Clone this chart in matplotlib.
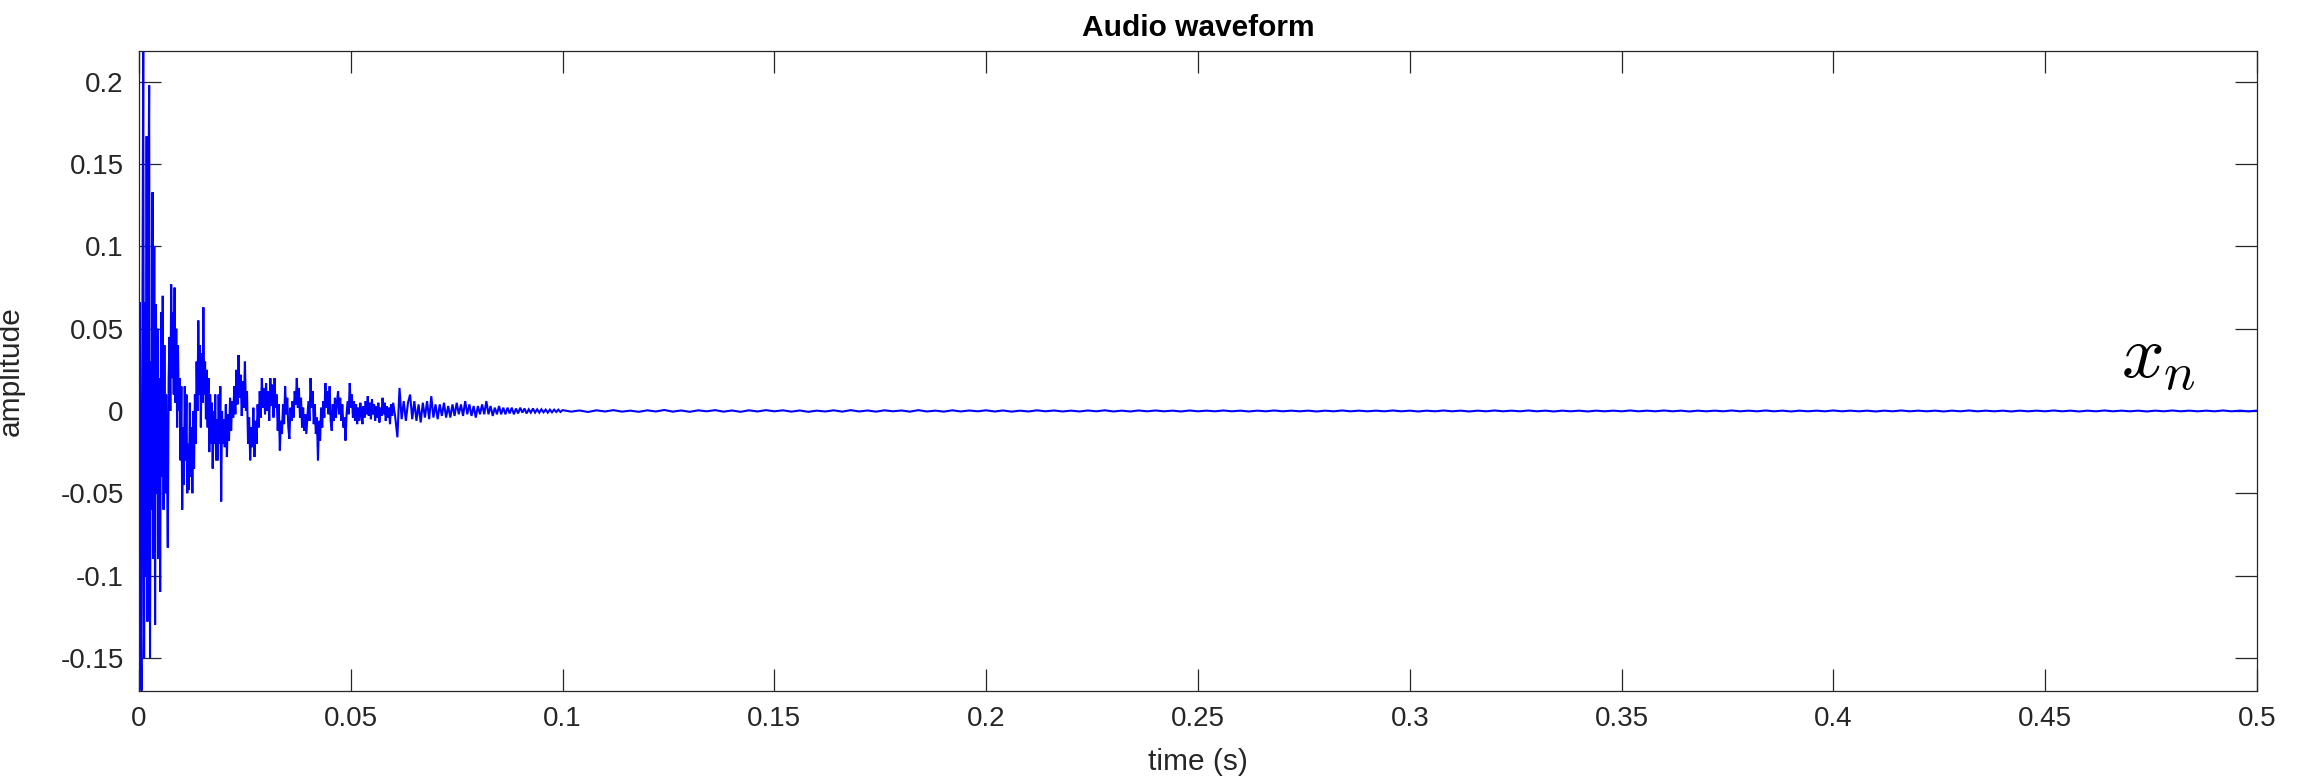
import numpy as np
import matplotlib
matplotlib.use("Agg")
import matplotlib.pyplot as plt

# waveform, in stretches with their own sample step
dt_a, start_a = 0.0002, 0.0
amp_a = [
    0.0, 0.066, -0.12, -0.170, 0.05, 0.219, -0.15, 0.066, -0.10, 0.167,
    -0.128, 0.12, 0.198, -0.15, 0.03, -0.06, 0.133, -0.09, 0.10, -0.13,
    0.065, -0.05, 0.05, -0.09, 0.02, -0.11, 0.06, -0.04, 0.07, -0.06,
    0.04, -0.05, 0.01, -0.03, -0.083, 0.02, 0.045, 0.0, 0.077, 0.02,
    0.06, 0.01, 0.075, 0.005, 0.05, -0.01, 0.04, 0.0, 0.02, -0.03,
    0.015, -0.06, -0.01, -0.045, 0.015, -0.03, 0.01, -0.05, -0.02, -0.048,
    0.005, -0.04, -0.01, -0.05, 0.0, -0.035, 0.01, -0.02, 0.03, 0.0,
    0.055, 0.01, 0.04, -0.01, 0.035, 0.005, 0.063, 0.01, 0.03, -0.005,
    0.025, -0.01, 0.02, -0.025, 0.01, -0.02, 0.005, -0.035, 0.0, -0.02,
    0.01, -0.03, -0.005, -0.03, 0.01, -0.02, 0.015, -0.055, 0.0, -0.02,
]

dt_b, start_b = 0.00025, 0.02
amp_b = [
    -0.005, -0.022, 0.004, -0.028, -0.002, -0.018, 0.008, -0.012, 0.006, -0.004,
    0.015, -0.002, 0.025, 0.004, 0.034, 0.008, 0.022, -0.003, 0.018, 0.002,
    0.03, 0.0, 0.012, -0.02, -0.004, -0.03, -0.01, -0.022, 0.002, -0.028,
    -0.006, -0.02, 0.004, -0.01, 0.012, -0.004, 0.02, 0.002, 0.014, -0.002,
    0.017, 0.0, 0.012, -0.006, 0.02, 0.003, 0.016, -0.004, 0.02, 0.002,
    0.01, -0.012, 0.004, -0.024, -0.006, -0.014, 0.004, -0.008, 0.015, -0.002,
    0.008, -0.01, -0.017, 0.002, -0.006, 0.006, -0.004, 0.012, 0.004, 0.02,
    0.002, 0.014, -0.004, 0.008, -0.01, 0.002, -0.012, -0.002, -0.014, -0.004,
    0.006, -0.006, 0.02, 0.002, 0.012, -0.008, 0.004, -0.014, -0.004, -0.03,
    -0.006, -0.018, 0.002, -0.01, 0.006, -0.004, 0.017, 0.002, 0.012, -0.002,
    0.015, -0.006, -0.012, 0.004, -0.006, 0.008, -0.004, 0.006, 0.012, -0.002,
    0.008, -0.006, 0.004, -0.01, -0.004, -0.018, -0.002, 0.006, -0.002, 0.017,
    0.002, 0.01, -0.004, 0.006, -0.006, 0.004, -0.008, 0.002, -0.006, 0.005,
    -0.002, -0.008, 0.003, -0.004, 0.006, -0.002, 0.009, -0.003, 0.005, -0.005,
    0.007, -0.002, 0.004, -0.006, 0.003, -0.004, 0.005, -0.007, 0.002, -0.003,
    0.008, -0.002, 0.005, -0.006, 0.003, -0.004, 0.002, -0.008, 0.004, -0.003,
]

dt_c, start_c = 0.0005, 0.06
amp_c = [
    0.005, -0.004, -0.016, 0.014, -0.005, 0.006, -0.006, 0.005, 0.01, -0.005,
    0.006, -0.006, 0.004, -0.007, 0.005, -0.004, 0.006, -0.005, 0.009, -0.004,
    0.004, -0.005, 0.004, -0.003, 0.005, -0.004, 0.003, -0.004, 0.004, -0.003,
    0.005, -0.002, 0.004, -0.003, 0.006, -0.002, 0.004, -0.003, 0.003, -0.004,
    0.003, -0.002, 0.004, -0.002, 0.006, -0.002, 0.003, -0.003, 0.002, -0.002,
    0.003, -0.002, 0.002, -0.002, 0.002, -0.0015, 0.002, -0.002, 0.0015, -0.0015,
    0.002, -0.001, 0.0015, -0.0015, 0.001, -0.001, 0.0015, -0.001, 0.001, -0.001,
    0.001, -0.0008, 0.0008, -0.001, 0.0008, -0.0008, 0.0008, -0.0006, 0.0008, -0.0006,
]

dt_d, start_d = 0.002, 0.1
amp_d = [
    0.0005, -0.0004, 0.0003, -0.0006, 0.0004, -0.0003, 0.0005, -0.0004, 0.0002, -0.0005,
    0.0004, -0.0003, 0.0006, -0.0004, 0.0003, -0.0005, 0.0004, -0.0002, 0.0005, -0.0004,
    0.0003, -0.0005, 0.0004, -0.0003, 0.0005, -0.0002, 0.0004, -0.0004, 0.0003, -0.0005,
    0.0002, -0.0003, 0.0004, -0.0004, 0.0005, -0.0003, 0.0003, -0.0004, 0.0004, -0.0002,
    0.0003, -0.0004, 0.0005, -0.0003, 0.0002, -0.0004, 0.0004, -0.0003, 0.0003, -0.0002,
    0.0004, -0.0003, 0.0003, -0.0004, 0.0002, -0.0003, 0.0004, -0.0002, 0.0003, -0.0003,
    0.0002, -0.0003, 0.0003, -0.0002, 0.0004, -0.0003, 0.0002, -0.0003, 0.0003, -0.0002,
    0.0003, -0.0002, 0.0002, -0.0003, 0.0003, -0.0002, 0.0002, -0.0002, 0.0003, -0.0002,
    0.0002, -0.0003, 0.0002, -0.0002, 0.0003, -0.0002, 0.0002, -0.0002, 0.0002, -0.0003,
    0.0002, -0.0002, 0.0003, -0.0002, 0.0002, -0.0002, 0.0002, -0.0002, 0.0003, -0.0002,
    0.0002, -0.0003, 0.0002, -0.0002, 0.0003, -0.0002, 0.0002, -0.0003, 0.0002, -0.0002,
    0.0003, -0.0002, 0.0002, -0.0002, 0.0003, -0.0002, 0.0002, -0.0003, 0.0002, -0.0002,
    0.0002, -0.0003, 0.0002, -0.0002, 0.0002, -0.0002, 0.0003, -0.0002, 0.0002, -0.0002,
    0.0003, -0.0002, 0.0002, -0.0003, 0.0002, -0.0002, 0.0002, -0.0002, 0.0003, -0.0002,
    0.0002, -0.0002, 0.0003, -0.0002, 0.0002, -0.0003, 0.0002, -0.0002, 0.0002, -0.0002,
    0.0003, -0.0002, 0.0002, -0.0002, 0.0002, -0.0003, 0.0002, -0.0002, 0.0003, -0.0002,
    0.0002, -0.0002, 0.0002, -0.0003, 0.0002, -0.0002, 0.0003, -0.0002, 0.0002, -0.0002,
    0.0002, -0.0003, 0.0002, -0.0002, 0.0002, -0.0002, 0.0003, -0.0002, 0.0002, -0.0003,
    0.0002, -0.0002, 0.0003, -0.0002, 0.0002, -0.0002, 0.0002, -0.0003, 0.0002, -0.0002,
    0.0003, -0.0002, 0.0002, -0.0002, 0.0002, -0.0002, 0.0003, -0.0002, 0.0002, -0.0002,
    0.0002,
]

x_ticks = [0, 0.05, 0.1, 0.15, 0.2, 0.25, 0.3, 0.35, 0.4, 0.45, 0.5]
x_labels = ['0', '0.05', '0.1', '0.15', '0.2', '0.25', '0.3', '0.35', '0.4', '0.45', '0.5']
y_ticks = [-0.15, -0.1, -0.05, 0, 0.05, 0.1, 0.15, 0.2]
y_labels = ['-0.15', '-0.1', '-0.05', '0', '0.05', '0.1', '0.15', '0.2']

t = np.concatenate([
    start_a + np.arange(len(amp_a)) * dt_a,
    start_b + np.arange(len(amp_b)) * dt_b,
    start_c + np.arange(len(amp_c)) * dt_c,
    start_d + np.arange(len(amp_d)) * dt_d,
])
amp = np.array(amp_a + amp_b + amp_c + amp_d)

plt.rcParams['font.family'] = ['Liberation Sans', 'DejaVu Sans']
plt.rcParams['mathtext.fontset'] = 'cm'
plt.rcParams['axes.unicode_minus'] = False

dark = '#262626'
fig = plt.figure(figsize=(23.03, 7.8), dpi=100)
ax = fig.add_axes([139 / 2303, 89 / 780, 2118 / 2303, 640 / 780])

ax.plot(t, amp, color='b', lw=1.5, solid_joinstyle='miter')

ax.set_xlim(0, 0.5)
ax.set_ylim(-0.1702, 0.2188)
ax.set_xticks(x_ticks)
ax.set_xticklabels(x_labels)
ax.set_yticks(y_ticks)
ax.set_yticklabels(y_labels)
ax.tick_params(direction='in', top=True, right=True, length=15.5, width=0.9,
               color=dark, labelcolor=dark, labelsize=20, pad=11)
for s in ax.spines.values():
    s.set_color(dark)
    s.set_linewidth(0.9)

ax.set_title('Audio waveform', fontsize=21.5, fontweight='bold', pad=11)
ax.set_xlabel('time (s)', fontsize=21.5, color=dark)
ax.set_ylabel('amplitude', fontsize=21.5, color=dark)
ax.xaxis.set_label_coords(0.5, -0.089)
ax.yaxis.set_label_coords(-0.054, 0.5)

ax.text(0.468, 0.020, r'$x_n$', fontsize=54, ha='left', va='baseline')

fig.savefig('out.png', dpi=100)
